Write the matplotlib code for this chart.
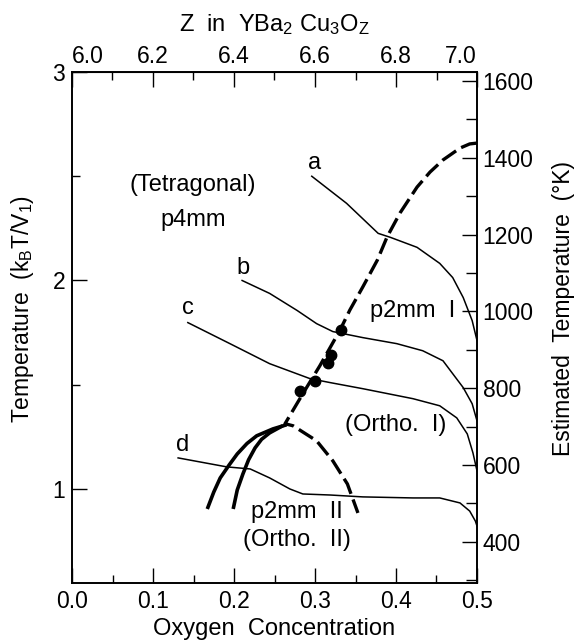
import matplotlib
matplotlib.use("Agg")
import matplotlib.pyplot as plt
from matplotlib.ticker import MultipleLocator

plt.rcParams['font.family'] = ['Liberation Sans', 'DejaVu Sans']
plt.rcParams['mathtext.fontset'] = 'custom'
plt.rcParams['mathtext.rm'] = 'Liberation Sans'
plt.rcParams['mathtext.it'] = 'Liberation Sans:italic'
plt.rcParams['font.size'] = 17

# thin curves a-d (oxygen concentration, kT/V1)
a_x = [0.296, 0.339, 0.378, 0.393, 0.426, 0.454, 0.470, 0.483, 0.494, 0.500]
a_y = [2.50, 2.37, 2.226, 2.207, 2.159, 2.082, 2.014, 1.918, 1.808, 1.712]
b_x = [0.210, 0.244, 0.278, 0.302, 0.322, 0.359, 0.401, 0.433, 0.458, 0.470, 0.483, 0.494, 0.500]
b_y = [2.0, 1.938, 1.856, 1.793, 1.755, 1.726, 1.697, 1.663, 1.615, 1.553, 1.486, 1.409, 1.327]
c_x = [0.143, 0.195, 0.244, 0.294, 0.319, 0.359, 0.421, 0.454, 0.475, 0.488, 0.495, 0.500]
c_y = [1.798, 1.697, 1.601, 1.529, 1.510, 1.481, 1.433, 1.399, 1.341, 1.264, 1.173, 1.087]
d_x = [0.131, 0.191, 0.220, 0.244, 0.269, 0.285, 0.319, 0.359, 0.421, 0.454, 0.479, 0.491, 0.498, 0.500]
d_y = [1.149, 1.106, 1.096, 1.053, 1.0, 0.976, 0.971, 0.962, 0.957, 0.957, 0.933, 0.894, 0.846, 0.822]

# thick dashed boundary (from top right down through the peak and back down)
dash_x = [0.500, 0.491, 0.479, 0.458, 0.442, 0.426, 0.405, 0.389, 0.377, 0.359,
          0.343, 0.331, 0.306, 0.285, 0.263,
          0.273, 0.302, 0.322, 0.340, 0.353]
dash_y = [2.659, 2.655, 2.635, 2.578, 2.520, 2.448, 2.324, 2.209, 2.098, 1.969,
          1.858, 1.763, 1.591, 1.457, 1.313,
          1.303, 1.231, 1.135, 1.024, 0.885]

# thick solid boundaries
s1_x = [0.167, 0.175, 0.183, 0.194, 0.204, 0.216, 0.228, 0.248, 0.265]
s1_y = [0.904, 0.985, 1.053, 1.115, 1.168, 1.218, 1.255, 1.288, 1.308]
s2_x = [0.199, 0.204, 0.211, 0.218, 0.226, 0.234, 0.244, 0.260]
s2_y = [0.904, 0.995, 1.072, 1.140, 1.197, 1.238, 1.269, 1.303]

# measured points
pt_x = [0.281, 0.300, 0.316, 0.320, 0.332]
pt_y = [1.471, 1.519, 1.606, 1.644, 1.764]

z_ticks = [6.0, 6.2, 6.4, 6.6, 6.8, 7.0]
z_minor = [6.1, 6.3, 6.5, 6.7, 6.9]

fig = plt.figure(figsize=(5.77, 6.42), dpi=100)
ax = fig.add_axes([72/577, 1-583/642, 405/577, 511/642])

for xs, ys in [(a_x, a_y), (b_x, b_y), (c_x, c_y), (d_x, d_y)]:
    ax.plot(xs, ys, color='black', lw=1.1)
ax.plot(dash_x, dash_y, color='black', lw=2.4, dashes=(5, 1.8))
ax.plot(s1_x, s1_y, color='black', lw=2.6, solid_capstyle='butt')
ax.plot(s2_x, s2_y, color='black', lw=2.6, solid_capstyle='butt')
ax.plot(pt_x, pt_y, 'o', color='black', ms=7.5)

ax.text(0.300, 2.564, 'a', ha='center', va='center')
ax.text(0.211, 2.06, 'b', ha='center', va='center')
ax.text(0.143, 1.868, 'c', ha='center', va='center')
ax.text(0.136, 1.211, 'd', ha='center', va='center')
ax.text(0.149, 2.458, '(Tetragonal)', ha='center', va='center')
ax.text(0.149, 2.29, 'p4mm', ha='center', va='center')
ax.text(0.421, 1.854, 'p2mm  I', ha='center', va='center')
ax.text(0.399, 1.307, '(Ortho.  I)', ha='center', va='center')
ax.text(0.278, 0.89, 'p2mm  II', ha='center', va='center')
ax.text(0.278, 0.756, '(Ortho.  II)', ha='center', va='center')

ax.set_xlim(0, 0.5)
ax.set_ylim(0.549, 3.0)
ax.xaxis.set_major_locator(MultipleLocator(0.1))
ax.xaxis.set_minor_locator(MultipleLocator(0.05))
ax.yaxis.set_major_locator(MultipleLocator(1))
ax.yaxis.set_minor_locator(MultipleLocator(0.5))
ax.xaxis.set_major_formatter(lambda v, p: f'{v:.1f}')
ax.tick_params(which='major', direction='in', length=11, width=1, labelsize=16.5, pad=5)
ax.tick_params(which='minor', direction='in', length=6, width=1)
ax.tick_params(axis='y', which='both', right=False)
ax.set_xlabel('Oxygen  Concentration', fontsize=17, labelpad=4)
ax.set_ylabel('Temperature  (k$_\\mathrm{B}$T/V$_1$)', fontsize=16.5)
ax.yaxis.set_label_coords(-0.089, 0.536)
for s in ax.spines.values():
    s.set_linewidth(1.2)

top = ax.secondary_xaxis('top', functions=(lambda x: 6 + 2*x, lambda z: (z - 6)/2))
top.set_xticks(z_ticks)
top.set_xticklabels([f'{z:.1f}' for z in z_ticks])
top.set_xticks(z_minor, minor=True)
top.tick_params(which='major', direction='in', length=11, width=1, labelsize=16.5, pad=3)
top.tick_params(which='minor', direction='in', length=6, width=1)
top.set_xlabel('Z  in  YBa$_2$ Cu$_3$O$_\\mathrm{Z}$', fontsize=17, labelpad=10)
labs = top.xaxis.get_ticklabels()
labs[0].set_ha('left')
labs[-1].set_ha('right')

rt = ax.twinx()
rt.set_ylim(293, 1623.4)
rt.yaxis.set_major_locator(MultipleLocator(200))
rt.yaxis.set_minor_locator(MultipleLocator(100))
rt.tick_params(which='major', direction='in', length=11, width=1, labelsize=16.5, pad=4)
rt.tick_params(which='minor', direction='in', length=8, width=1)
rt.set_ylabel('Estimated  Temperature  (°K)', fontsize=16.5)
rt.yaxis.set_label_coords(1.185, 0.538)
for s in rt.spines.values():
    s.set_linewidth(1.2)

fig.savefig('out.png', dpi=100)
